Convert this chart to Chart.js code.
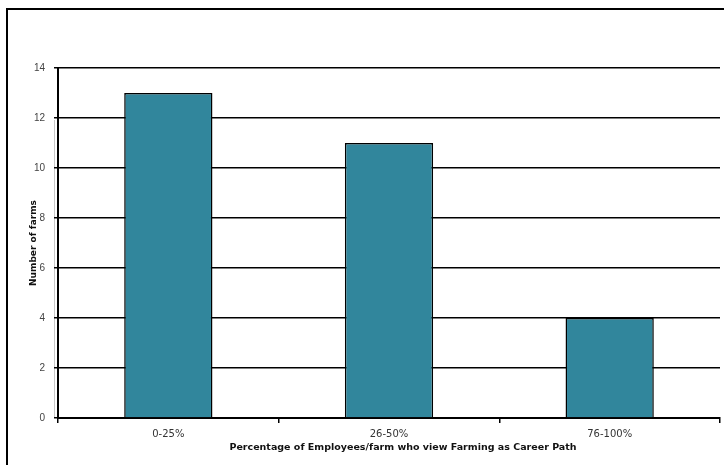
<!DOCTYPE html>
<html>
<head>
<meta charset="utf-8">
<script src="https://cdn.jsdelivr.net/npm/chart.js@4/dist/chart.umd.min.js"></script>
<style>
  html, body { margin: 0; padding: 0; background: #fff; overflow: hidden; }
  #wrap { position: absolute; left: 0; top: 0; width: 724px; height: 465px; }
</style>
</head>
<body>
<div id="wrap"><canvas id="myChart"></canvas></div>
<script>
var categories = ['0-25%', '26-50%', '76-100%'];
var farm_counts = [13, 11, 4];
var y_ticks = [0, 2, 4, 6, 8, 10, 12, 14];
var x_title = 'Percentage of Employees/farm who view Farming as Career Path';

// outer frame of the original sheet (only the top and left edges are visible)
var framePlugin = {
    id: 'frame',
    beforeDraw: function(chart) {
        var ctx = chart.ctx;
        ctx.save();
        ctx.fillStyle = '#fff';
        ctx.fillRect(0, 0, chart.width, chart.height);
        ctx.strokeStyle = '#000';
        ctx.lineWidth = 2;
        ctx.beginPath();
        ctx.moveTo(7, chart.height);
        ctx.lineTo(7, 9);
        ctx.lineTo(chart.width, 9);
        ctx.stroke();
        // faint line left of the value axis, as in the original
        var y = chart.scales.y;
        ctx.strokeStyle = '#c8c8c8';
        ctx.lineWidth = 1;
        ctx.beginPath();
        ctx.moveTo(54.5, y.getPixelForValue(12) + 2);
        ctx.lineTo(54.5, y.getPixelForValue(0));
        ctx.stroke();
        ctx.restore();
    },
    // the category axis title sits a bit right of the plot centre in the original
    afterDraw: function(chart) {
        var ctx = chart.ctx;
        var area = chart.chartArea;
        ctx.save();
        ctx.fillStyle = '#111';
        ctx.font = 'bold 9.5px "DejaVu Sans"';
        ctx.textAlign = 'center';
        ctx.textBaseline = 'middle';
        ctx.fillText(x_title, (area.left + area.right) / 2 + 14, 448);
        ctx.restore();
    }
};

function initialiseChart() {
    const ctx = document.getElementById('myChart');
    const myChart = new Chart(ctx, {
        type: 'bar',
        data: {
            labels: categories,
            datasets: [{
                label: 'Number of farms',
                data: farm_counts,
                backgroundColor: '#31869C',
                borderColor: '#000',
                borderWidth: 1.5,
                categoryPercentage: 1,
                barPercentage: 0.4
            }]
        },
        plugins: [framePlugin],
        options: {
            responsive: true,
            maintainAspectRatio: false,
            animation: false,
            layout: { padding: { left: 0, top: 68, right: 4, bottom: 0 } },
            plugins: {
                legend: { display: false },
                tooltip: { enabled: false }
            },
            scales: {
                x: {
                    afterFit: function(scale) { scale.height = 47; },
                    grid: {
                        offset: true,
                        drawOnChartArea: false,
                        color: '#000',
                        lineWidth: 1.5,
                        tickLength: 5
                    },
                    border: { color: '#000', width: 2 },
                    ticks: {
                        padding: 5,
                        color: '#333',
                        font: { family: 'DejaVu Sans', size: 10 }
                    }
                },
                y: {
                    min: 0,
                    max: 14,
                    afterFit: function(scale) { scale.width = 58; },
                    afterBuildTicks: function(scale) {
                        scale.ticks = y_ticks.map(function(v) { return { value: v }; });
                    },
                    grid: {
                        color: '#000',
                        lineWidth: 1.5,
                        tickLength: 4
                    },
                    border: { color: '#000', width: 2 },
                    ticks: {
                        padding: 9,
                        color: '#444',
                        font: { family: 'Liberation Sans', size: 10 }
                    },
                    title: {
                        display: true,
                        text: 'Number of farms',
                        color: '#111',
                        font: { family: 'DejaVu Sans', size: 9, weight: 'bold' },
                        padding: { top: 28, bottom: 0 }
                    }
                }
            }
        }
    });
}

initialiseChart();
</script>
</body>
</html>
